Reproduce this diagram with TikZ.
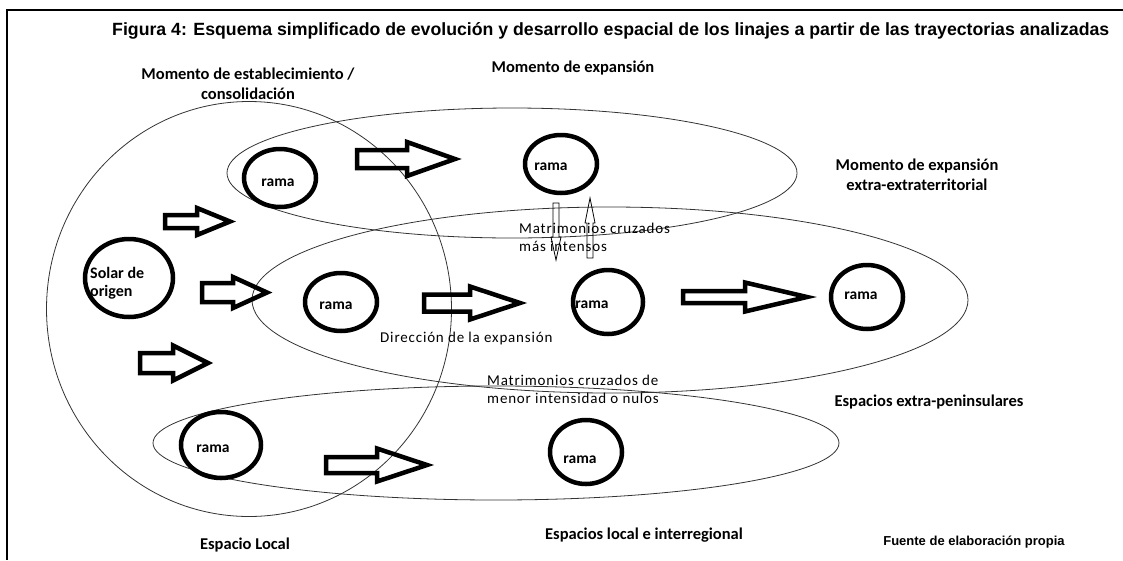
\documentclass[tikz,border=0pt]{standalone}
\usepackage{fontspec}
\setmainfont{Carlito}
\newfontfamily\arialfont{Liberation Sans}
\newfontfamily\finofont[LetterSpace=5.5]{Carlito}
\usetikzlibrary{shapes.geometric}

% block arrow: x tail, x head base, x tip, y, shaft half width, head half width
\newcommand{\flecha}[6]{%
  \draw[bloque] (#1,#4-#5) -- (#2,#4-#5) -- (#2,#4-#6) -- (#3,#4)
    -- (#2,#4+#6) -- (#2,#4+#5) -- (#1,#4+#5) -- cycle;}
% thin vertical arrow: x, y tail, y head base, y tip, shaft half width, head half width
\newcommand{\vflecha}[6]{%
  \draw[fina] (#1-#5,#2) -- (#1-#5,#3) -- (#1-#6,#3) -- (#1,#4)
    -- (#1+#6,#3) -- (#1+#5,#3) -- (#1+#5,#2) -- cycle;}

\begin{document}
\begin{tikzpicture}[x=1pt, y=-1pt,
    rama/.style={ellipse, draw, line width=4.5pt, inner sep=0pt},
    ramatxt/.style={font=\bfseries\fontsize{15.5}{18}\selectfont, inner sep=0pt},
    etiqueta/.style={font=\bfseries\fontsize{16.5}{20}\selectfont, align=center, inner sep=0pt},
    fino/.style={font=\finofont\fontsize{15}{18}\selectfont, align=left, inner sep=0pt},
    contorno/.style={draw=black!80, line width=0.8pt},
    bloque/.style={draw, line width=4.5pt},
    fina/.style={draw, line width=0.8pt}
    ]
    \useasboundingbox (0,0) rectangle (1123,560);
    \draw[line width=1.5pt] (7,560) -- (7,10) -- (1123,10);
    \node[anchor=base west, inner sep=0pt, font=\arialfont\bfseries\fontsize{17.7}{20}\selectfont] (titulo) at (112,35)
      {Figura 4: Esquema simplificado de evolución y desarrollo espacial de los linajes a partir de las trayectorias analizadas};

    % zonas
    \draw[contorno] (249,309) ellipse [x radius=202.5pt, y radius=207.5pt];
    \draw[contorno] (512,173) ellipse [x radius=285pt, y radius=65pt];
    \draw[contorno] (610,300) ellipse [x radius=358pt, y radius=93pt];
    \draw[contorno] (496,443) ellipse [x radius=343pt, y radius=57pt];

    % ramas
    \node[rama, minimum width=88, minimum height=78] (solar) at (129,278) {};
    \node[ramatxt, font=\bfseries\fontsize{16}{18}\selectfont, align=left, anchor=west] (solartxt) at (90,283) {Solar de\\origen};
    \node[rama, minimum width=72, minimum height=58, label={[ramatxt, xshift=-2pt, yshift=-5pt]center:rama}] (r1) at (280,178) {};
    \node[rama, minimum width=72, minimum height=58, label={[ramatxt, xshift=-10pt, yshift=-3pt]center:rama}] (r2) at (561,164) {};
    \node[rama, minimum width=72, minimum height=58, label={[ramatxt, xshift=-5pt, yshift=-4pt]center:rama}] (r3) at (341,302) {};
    \node[rama, minimum width=70, minimum height=64, label={[ramatxt, xshift=-16pt, yshift=-3pt]center:rama}] (r4) at (608,302) {};
    \node[rama, minimum width=72, minimum height=64, label={[ramatxt, xshift=-6pt, yshift=1pt]center:rama}] (r5) at (867,297) {};
    \node[rama, minimum width=80, minimum height=66, label={[ramatxt, xshift=-8pt, yshift=-4pt]center:rama}] (r6) at (221,445) {};
    \node[rama, minimum width=72, minimum height=64, label={[ramatxt, xshift=-6pt, yshift=-8pt]center:rama}] (r7) at (586,452) {};

    % flechas
    \flecha{357}{407}{455}{159}{9}{17}
    \flecha{165}{197}{230}{221.5}{6.5}{13.5}
    \flecha{202}{233}{267}{292.5}{9.5}{15.5}
    \flecha{140}{173}{208}{363}{10}{17.5}
    \flecha{424}{470}{520}{303}{8.5}{16.5}
    \flecha{683}{745}{807}{297}{6}{14.5}
    \flecha{326}{377}{427}{465}{8}{16.5}
    \vflecha{556}{203}{237}{260}{3}{5}
    \vflecha{590}{258}{223}{198}{3}{5}

    % textos
    \node[etiqueta] (establecimiento) at (248,83.5) {Momento de establecimiento /\\consolidación};
    \node[etiqueta] (expansion) at (573,68) {Momento de expansión};
    \node[etiqueta] (extraterritorial) at (917,175) {Momento de expansión\\extra-extraterritorial};
    \node[etiqueta] (peninsulares) at (929,402) {Espacios extra-peninsulares};
    \node[etiqueta] (interregional) at (644,535) {Espacios local e interregional};
    \node[etiqueta] (local) at (245,545) {Espacio Local};
    \node[inner sep=0pt, font=\arialfont\bfseries\fontsize{13}{15}\selectfont] (fuente) at (974,542) {Fuente de elaboración propia};
    \node[fino, anchor=west] (intensos) at (519,237) {Matrimonios cruzados\\más intensos};
    \node[fino, anchor=west] (direccion) at (380,338) {Dirección de la expansión};
    \node[fino, anchor=west] (nulos) at (487,389) {Matrimonios cruzados de\\menor intensidad o nulos};
\end{tikzpicture}
\end{document}
